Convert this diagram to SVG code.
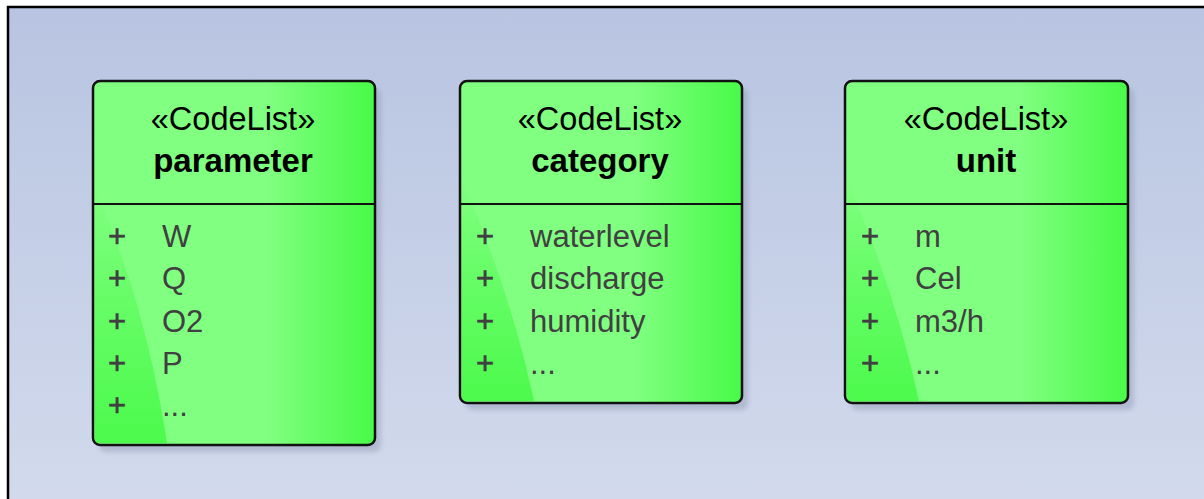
<svg xmlns="http://www.w3.org/2000/svg" width="1204" height="499" viewBox="0 0 1204 499">
  <defs>
    <linearGradient id="bg" x1="0" y1="0" x2="0" y2="1">
      <stop offset="0" stop-color="#b8c4e1"/>
      <stop offset="1" stop-color="#d2daec"/>
    </linearGradient>
    <linearGradient id="boxFill" x1="0" y1="0" x2="1" y2="0">
      <stop offset="0" stop-color="#80ff80"/>
      <stop offset="0.62" stop-color="#80ff80"/>
      <stop offset="1" stop-color="#48fa48"/>
    </linearGradient>
    <linearGradient id="shine" x1="0" y1="0" x2="0" y2="1">
      <stop offset="0" stop-color="#4cfa4c" stop-opacity="0"/>
      <stop offset="0.45" stop-color="#4cfa4c" stop-opacity="0.5"/>
      <stop offset="1" stop-color="#4cfa4c" stop-opacity="1"/>
    </linearGradient>
    <filter id="shadow" x="-10%" y="-10%" width="130%" height="130%">
      <feGaussianBlur stdDeviation="2.5"/>
    </filter>
  </defs>
  <style>
    .frame { fill: none; stroke: #000; stroke-width: 2.5; }
    .shadowRect { fill: #8d97b0; opacity: 0.45; filter: url(#shadow); }
    .body { fill: url(#boxFill); }
    .gloss { fill: url(#shine); }
    .outline { fill: none; stroke: #111; stroke-width: 2.5; }
    .divider { stroke: #111; stroke-width: 2; }
    .stereo { font-family: "Liberation Sans", Arial, sans-serif; font-size: 32.5px; fill: #000; text-anchor: middle; }
    .name { font-family: "Liberation Sans", Arial, sans-serif; font-size: 33px; font-weight: bold; fill: #000; text-anchor: middle; }
    .attr { font-family: "Liberation Sans", Arial, sans-serif; font-size: 31px; fill: #404040; }
    .vis { font-family: "Liberation Sans", Arial, sans-serif; font-size: 31px; fill: #404040; text-anchor: middle; stroke: #404040; stroke-width: 0.6; }
  </style>

  <!-- canvas -->
  <rect x="0" y="0" width="1204" height="499" fill="#ffffff"/>
  <rect x="8" y="7" width="1200" height="496" fill="url(#bg)"/>
  <path class="frame" d="M8 499 V7 H1204"/>

  <!-- parameter code list -->
  <g id="parameter">
    <rect class="shadowRect" x="99" y="88" width="282" height="364" rx="7"/>
    <rect class="body" x="93" y="81" width="282" height="364" rx="7"/>
    <path class="gloss" d="M95 190 Q145 300 167 443 H99 Q95 443 95 437 Z"/>
    <rect class="outline" x="93" y="81" width="282" height="364" rx="7"/>
    <line class="divider" x1="93" y1="204" x2="375" y2="204"/>
    <text class="stereo" x="233" y="130">«CodeList»</text>
    <text class="name" x="233" y="172">parameter</text>
    <text class="vis" x="117" y="247">+</text><text class="attr" x="162" y="247">W</text>
    <text class="vis" x="117" y="289">+</text><text class="attr" x="162" y="289">Q</text>
    <text class="vis" x="117" y="332">+</text><text class="attr" x="162" y="332">O2</text>
    <text class="vis" x="117" y="374">+</text><text class="attr" x="162" y="374">P</text>
    <text class="vis" x="117" y="416">+</text><text class="attr" x="162" y="416">...</text>
  </g>

  <!-- category code list -->
  <g id="category">
    <rect class="shadowRect" x="466" y="88" width="282" height="322" rx="7"/>
    <rect class="body" x="460" y="81" width="282" height="322" rx="7"/>
    <path class="gloss" d="M462 180 Q510 290 534 401 H466 Q462 401 462 395 Z"/>
    <rect class="outline" x="460" y="81" width="282" height="322" rx="7"/>
    <line class="divider" x1="460" y1="204" x2="742" y2="204"/>
    <text class="stereo" x="600" y="130">«CodeList»</text>
    <text class="name" x="600" y="172">category</text>
    <text class="vis" x="485" y="247">+</text><text class="attr" x="530" y="247">waterlevel</text>
    <text class="vis" x="485" y="289">+</text><text class="attr" x="530" y="289">discharge</text>
    <text class="vis" x="485" y="332">+</text><text class="attr" x="530" y="332">humidity</text>
    <text class="vis" x="485" y="374">+</text><text class="attr" x="530" y="374">...</text>
  </g>

  <!-- unit code list -->
  <g id="unit">
    <rect class="shadowRect" x="851" y="88" width="283" height="322" rx="7"/>
    <rect class="body" x="845" y="81" width="283" height="322" rx="7"/>
    <path class="gloss" d="M847 180 Q895 290 919 401 H851 Q847 401 847 395 Z"/>
    <rect class="outline" x="845" y="81" width="283" height="322" rx="7"/>
    <line class="divider" x1="845" y1="204" x2="1128" y2="204"/>
    <text class="stereo" x="986" y="130">«CodeList»</text>
    <text class="name" x="986" y="172">unit</text>
    <text class="vis" x="870" y="247">+</text><text class="attr" x="915" y="247">m</text>
    <text class="vis" x="870" y="289">+</text><text class="attr" x="915" y="289">Cel</text>
    <text class="vis" x="870" y="332">+</text><text class="attr" x="915" y="332">m3/h</text>
    <text class="vis" x="870" y="374">+</text><text class="attr" x="915" y="374">...</text>
  </g>

  <!-- no associations between the code lists -->
  <g id="connectors"/>
</svg>
